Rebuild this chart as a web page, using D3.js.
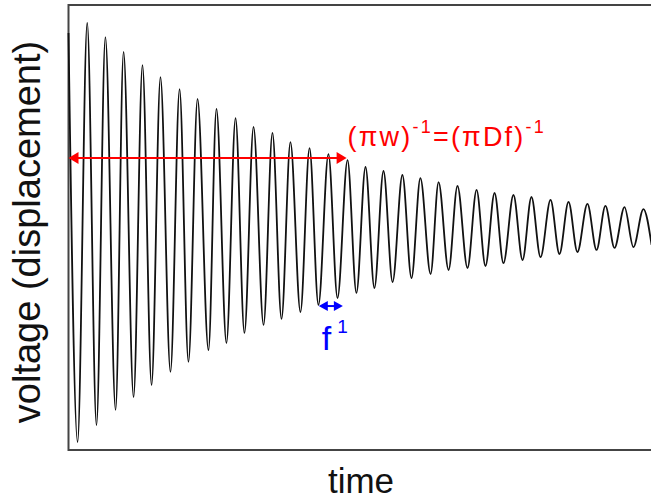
<!DOCTYPE html>
<html><head><meta charset="utf-8">
<script src="https://cdn.jsdelivr.net/npm/d3@7"></script>
<style>body{margin:0;background:#fff}svg{display:block}</style>
</head><body>
<script>
// time in periods (f^-1 units), voltage in arbitrary units
const peakTimes   = [1.01,1.99,2.97,3.99,4.96,5.99,6.96,7.98,9.01,9.98,11.0,11.97,13.0,14.02,15.05,16.02,16.99,18.01,18.98,19.96,20.98,22.01,22.98,24.0,24.97,26.0,26.97,27.99,28.96,29.99,31.01];
const peakVolts   = [0.919,0.856,0.789,0.730,0.676,0.622,0.578,0.533,0.492,0.452,0.425,0.384,0.357,0.330,0.303,0.272,0.254,0.236,0.222,0.204,0.187,0.169,0.155,0.146,0.137,0.124,0.115,0.106,0.097,0.092,0.083];
const troughTimes = [0.49,1.51,2.54,3.51,4.48,5.5,6.47,7.55,8.52,9.49,10.52,11.49,12.51,13.48,14.51,15.53,16.5,17.48,18.5,19.53,20.5,21.52,22.49,23.46,24.49,25.46,26.48,27.45,28.48,29.45,30.47];
const troughVolts = [-0.964,-0.888,-0.820,-0.762,-0.708,-0.649,-0.604,-0.551,-0.519,-0.474,-0.438,-0.411,-0.380,-0.348,-0.317,-0.294,-0.272,-0.245,-0.227,-0.209,-0.191,-0.182,-0.173,-0.160,-0.146,-0.133,-0.119,-0.110,-0.101,-0.092,-0.088];
const startSample = [0.0, 0.874];
const endSample   = [31.45, -0.078];
const xLabel = "time";
const yLabel = "voltage (displacement)";
const decayTimes = [0, 15.0], decayLevel = 0.312;   // (πw)^-1 span
const periodTimes = [13.5, 14.8], periodLevel = -0.353; // f^-1 span

const W = 651, H = 502;
const svg = d3.select("body").append("svg").attr("width", W).attr("height", H)
  .style("font-family", "'Liberation Sans', Arial, sans-serif");
svg.append("rect").attr("width", W).attr("height", H).attr("fill", "#fff");

const x = d3.scaleLinear().domain([0, 32]).range([68.5, 68.5 + 32 * 18.54]);
const y = d3.scaleLinear().domain([-1, 1]).range([450, 5]);

// frame
svg.append("path")
  .attr("d", `M${W+5},${y(1)}H${x(0)}V${y(-1)}H${W+5}`)
  .attr("fill", "none").attr("stroke", "#444").attr("stroke-width", 2);

// signal
const pts = [startSample];
for (let i = 0; i < troughTimes.length; i++) {
  pts.push([troughTimes[i], troughVolts[i]]);
  if (i < peakTimes.length) pts.push([peakTimes[i], peakVolts[i]]);
}
pts.push(endSample);
pts.sort((a, b) => a[0] - b[0]);
const line = d3.line().x(d => x(d[0])).y(d => y(d[1])).curve(d3.curveMonotoneX);
svg.append("path").attr("d", line(pts)).attr("fill", "none")
  .attr("stroke", "#111").attr("stroke-width", 1.8).attr("stroke-linejoin", "round");

// double arrows
function dblArrow(t0, t1, v, color, hl, hw, sw) {
  const x0 = x(t0), x1 = x(t1), yy = y(v);
  const g = svg.append("g");
  g.append("line").attr("x1", x0 + 2).attr("x2", x1 - 2).attr("y1", yy).attr("y2", yy)
    .attr("stroke", color).attr("stroke-width", sw);
  g.append("path").attr("d", `M${x0},${yy}L${x0+hl},${yy-hw/2}L${x0+hl},${yy+hw/2}Z`).attr("fill", color);
  g.append("path").attr("d", `M${x1},${yy}L${x1-hl},${yy-hw/2}L${x1-hl},${yy+hw/2}Z`).attr("fill", color);
}
dblArrow(decayTimes[0], decayTimes[1], decayLevel, "#ff0000", 10, 12, 2);
dblArrow(periodTimes[0], periodTimes[1], periodLevel, "#0000ff", 9, 10, 2);

// red label
const rt = svg.append("text").attr("x", x(decayTimes[1]) + 1).attr("y", y(decayLevel) - 12)
  .attr("fill", "#ff0000").attr("font-size", 27).style("letter-spacing", "2.2px");
rt.append("tspan").text("(\u03C0w)");
rt.append("tspan").attr("font-size", 18).attr("dy", -13).text("-1");
rt.append("tspan").attr("dy", 13).text("=(\u03C0Df)");
rt.append("tspan").attr("font-size", 18).attr("dy", -13).text("-1");

// blue label
const bt = svg.append("text").attr("x", x(periodTimes[0]) + 3).attr("y", y(periodLevel) + 44)
  .attr("fill", "#0000ff").attr("font-size", 34);
bt.append("tspan").text("f");
bt.append("tspan").attr("font-size", 19).attr("dx", 6).attr("dy", -17).text("1");

// axis labels
svg.append("text").attr("x", 361).attr("y", 493).attr("text-anchor", "middle")
  .attr("font-size", 35).attr("fill", "#111").text(xLabel);
svg.append("text").attr("transform", `translate(40,232) rotate(-90)`).attr("text-anchor", "middle")
  .attr("font-size", 38).attr("fill", "#111").text(yLabel);
</script>
</body></html>
